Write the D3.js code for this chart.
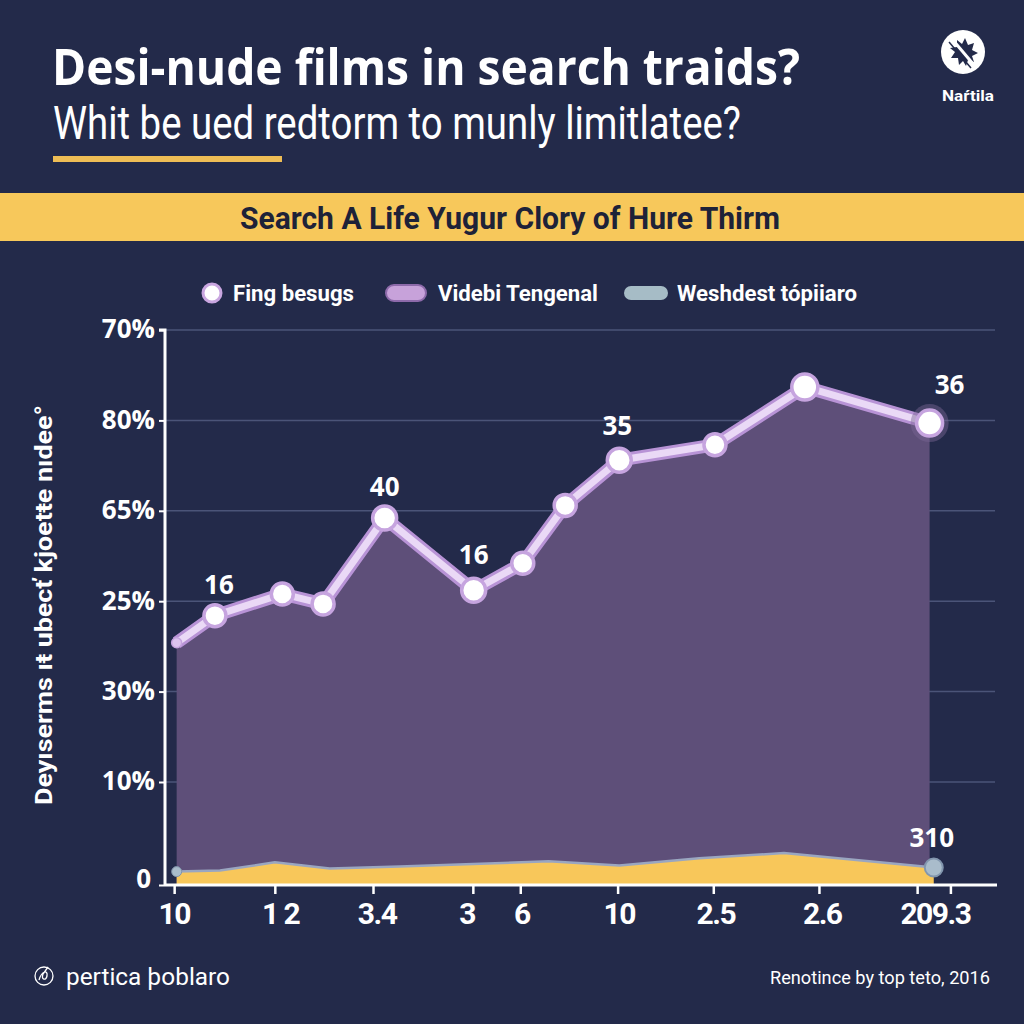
<!DOCTYPE html>
<html><head><meta charset="utf-8">
<script src="https://cdn.jsdelivr.net/npm/d3@7"></script>
<style>
html,body{margin:0;padding:0;background:#232a4a;}
svg{display:block;}
</style></head>
<body>
<svg id="c" width="1024" height="1024"></svg>
<script>
// ---- data ----
const title = "Desi-nude films in search traids?";
const subtitle = "Whit be ued redtorm to munly limitlatee?";
const bandText = "Search A Life Yugur Clory of Hure Thirm";
const legendLabels = ["Fing besugs", "Videbi Tengenal", "Weshdest tópiiaro"];
const yAxisTitle = "Deyıserms ıŧ ubecť kjoetŧe nıdee°";
const yTickValues = [0, 1, 2, 3, 4, 5, 6];
const yTickLabels = ["0", "10%", "30%", "25%", "65%", "80%", "70%"];
const xTickValues = [1.1, 13.2, 25.0, 37.0, 42.7, 54.4, 65.9, 78.6, 90.4, 94.4];
const xTickLabels = ["10", "1 2", "3.4", "3", "6", "10", "2.5", "2.6", "209.3", ""];
const xLabelAt = [1.1, 13.9, 25.5, 36.3, 42.9, 54.6, 66.2, 79.0, 92.6, 94.4];
// main series (position, value in axis units)
const mainX = [1.4, 6.0, 14.1, 19.0, 26.4, 37.1, 43.0, 48.1, 54.6, 66.1, 76.9, 91.9];
const mainY = [2.54, 2.84, 3.08, 2.97, 3.92, 3.12, 3.42, 4.06, 4.56, 4.73, 5.37, 4.97];
const mainLabels = ["", "16", "", "", "40", "16", "", "", "35", "", "", "36"];
// lower series
const lowX = [1.4, 6.6, 13.2, 19.8, 28.2, 46.1, 54.6, 64.2, 74.4, 92.4];
const lowY = [0.13, 0.14, 0.22, 0.16, 0.18, 0.23, 0.19, 0.26, 0.31, 0.17];
const lowLastLabel = "310";
const logoText = "Naŕtila";
const footLeft = "pertica þoblaro";
const footRight = "Renotince by top teto, 2016";

// ---- chart ----
const svg = d3.select("#c");
const BG = "#232a4a";
svg.append("rect").attr("width",1024).attr("height",1024).attr("fill",BG);

// header
svg.append("text").attr("x",52).attr("y",85).text(title)
  .attr("font-family","'Open Sans', 'Noto Sans', sans-serif").attr("font-weight",700)
  .attr("font-size",51).attr("fill","#ffffff").attr("textLength",748).attr("lengthAdjust","spacingAndGlyphs");
svg.append("text").attr("x",53).attr("y",139).text(subtitle)
  .attr("font-family","Roboto, sans-serif").attr("font-weight",400)
  .attr("font-size",46).attr("fill","#ffffff").attr("textLength",688).attr("lengthAdjust","spacingAndGlyphs");
svg.append("rect").attr("x",53).attr("y",156).attr("width",229).attr("height",6).attr("fill","#eebd55");

// logo
const lg = svg.append("g").attr("transform","translate(963,52)");
lg.append("circle").attr("r",22).attr("fill","#ffffff");
lg.append("path").attr("d","M2,-14 L5,-7 L11,-9 L9,-2 L15,1 L9,4 L11,10 L5,8 L3,14 L0,9 L-4,13 L-5,6 L-12,6 L-8,0 L-13,-4 L-6,-5 L-6,-12 L-1,-8 Z")
  .attr("fill","#232a4a");
lg.append("line").attr("x1",-11).attr("y1",-13).attr("x2",11).attr("y2",13).attr("stroke","#ffffff").attr("stroke-width",3);
lg.append("line").attr("x1",-14).attr("y1",-10).attr("x2",8).attr("y2",16).attr("stroke","#232a4a").attr("stroke-width",1.5);
svg.append("text").attr("x",968).attr("y",101).attr("text-anchor","middle").text(logoText)
  .attr("font-family","Roboto, sans-serif").attr("font-weight",700).attr("font-size",15)
  .attr("fill","#ffffff").attr("textLength",52).attr("lengthAdjust","spacingAndGlyphs");

// band
svg.append("rect").attr("x",0).attr("y",193).attr("width",1024).attr("height",48).attr("fill","#f7c85b");
svg.append("text").attr("x",510).attr("y",229).attr("text-anchor","middle").text(bandText)
  .attr("font-family","Roboto, sans-serif").attr("font-weight",700).attr("font-size",31)
  .attr("fill","#1e2238").attr("textLength",540).attr("lengthAdjust","spacingAndGlyphs");

// legend
const leg = svg.append("g");
leg.append("circle").attr("cx",212).attr("cy",293).attr("r",9).attr("fill","#ffffff").attr("stroke","#c9a6e0").attr("stroke-width",3);
leg.append("text").attr("x",233).attr("y",301).text(legendLabels[0]).attr("textLength",121);
leg.append("rect").attr("x",386).attr("y",285).attr("width",40).attr("height",16).attr("rx",8).attr("fill","#c7a2da").attr("stroke","#8d6aaa").attr("stroke-width",2);
leg.append("text").attr("x",438).attr("y",301).text(legendLabels[1]).attr("textLength",160);
leg.append("rect").attr("x",624).attr("y",286).attr("width",44).attr("height",14).attr("rx",7).attr("fill","#a6bcc6");
leg.append("text").attr("x",677).attr("y",301).text(legendLabels[2]).attr("textLength",180);
leg.selectAll("text").attr("font-family","Roboto, sans-serif").attr("font-weight",700).attr("font-size",22)
  .attr("lengthAdjust","spacingAndGlyphs").attr("fill","#ffffff");

// scales
const x = d3.scaleLinear().domain([0,100]).range([165,997]);
const y = d3.scaleLinear().domain([0,1,6]).range([885,782,330]);

// gridlines
svg.append("g").selectAll("line").data(yTickValues.filter(v=>v>0)).join("line")
  .attr("x1",165).attr("x2",995).attr("y1",d=>y(d)).attr("y2",d=>y(d))
  .attr("stroke","#4b5478").attr("stroke-width",1.5);

// main area
const mainData = mainX.map((v,i)=>({x:v,y:mainY[i]}));
const lowData = lowX.map((v,i)=>({x:v,y:lowY[i]}));
const area = d3.area().x(d=>x(d.x)).y0(y(0)).y1(d=>y(d.y));
svg.append("path").datum(mainData).attr("d",area).attr("fill","#5e4f79");

// lower area
svg.append("path").datum(lowData).attr("d",area).attr("fill","#f8c75a");
svg.append("path").datum(lowData).attr("d",d3.line().x(d=>x(d.x)).y(d=>y(d.y)))
  .attr("fill","none").attr("stroke","#9aa6c0").attr("stroke-width",2.5);

// main line
const line = d3.line().x(d=>x(d.x)).y(d=>y(d.y));
svg.append("path").datum(mainData).attr("d",line).attr("fill","none")
  .attr("stroke","#b893d6").attr("stroke-width",13).attr("stroke-linejoin","round");
svg.append("path").datum(mainData).attr("d",line).attr("fill","none")
  .attr("stroke","#ead9f6").attr("stroke-width",7).attr("stroke-linejoin","round");

// main points
const radii = [5,11,11,11,12,12,11,11,12,11,13,13];
svg.append("circle").attr("cx",x(mainX[11])).attr("cy",y(mainY[11])).attr("r",19).attr("fill","#7a6594").attr("opacity",0.45);
svg.append("g").selectAll("circle").data(mainData).join("circle")
  .attr("cx",d=>x(d.x)).attr("cy",d=>y(d.y)).attr("r",(d,i)=>radii[i])
  .attr("fill",(d,i)=>i===0?"#dcc3ee":"#ffffff").attr("stroke","#c6a4df").attr("stroke-width",(d,i)=>i===0?1.5:3.5);

// main labels
const lblOff = [[0,0],[4,-22],[0,0],[0,0],[0,-22],[0,-26],[0,0],[0,0],[-2,-25],[0,0],[0,0],[20,-29]];
svg.append("g").selectAll("text").data(mainData).join("text")
  .attr("x",(d,i)=>x(d.x)+lblOff[i][0]).attr("y",(d,i)=>y(d.y)+lblOff[i][1])
  .attr("text-anchor","middle").text((d,i)=>mainLabels[i])
  .attr("font-family","'Open Sans', sans-serif").attr("font-weight",700).attr("font-size",26).attr("fill","#ffffff");

// lower points
svg.append("circle").attr("cx",x(lowX[0])).attr("cy",y(lowY[0])).attr("r",5).attr("fill","#a9bccb").attr("stroke","#7f93ab").attr("stroke-width",1);
const lastLow = lowData[lowData.length-1];
svg.append("circle").attr("cx",x(lastLow.x)).attr("cy",y(lastLow.y)).attr("r",9).attr("fill","#a9bccb").attr("stroke","#8296ae").attr("stroke-width",2);
svg.append("text").attr("x",x(lastLow.x)-2).attr("y",y(lastLow.y)-20).attr("text-anchor","middle").text(lowLastLabel)
  .attr("font-family","'Open Sans', sans-serif").attr("font-weight",700).attr("font-size",26).attr("fill","#ffffff");

// y axis
const yAxis = d3.axisLeft(y).tickValues(yTickValues).tickFormat((d,i)=>yTickLabels[i]).tickSize(6).tickPadding(8);
const ya = svg.append("g").attr("transform","translate(165,0)").call(yAxis);
ya.select(".domain").attr("stroke","#ffffff").attr("stroke-width",3).attr("d","M-6,"+y(6)+"H0V"+y(0));
ya.selectAll(".tick line").attr("stroke","#ffffff").attr("stroke-width",2);
ya.selectAll(".tick text").attr("font-family","'Open Sans', sans-serif").attr("font-weight",700)
  .attr("font-size",26).attr("fill","#ffffff").attr("dy","0.3em").attr("x",-10);
ya.selectAll(".tick").filter(d=>d===0).select("text").attr("x",-14).attr("dy","0.1em");

// x axis
const xAxis = d3.axisBottom(x).tickValues(xTickValues).tickFormat("").tickSize(9);
const xa = svg.append("g").attr("transform","translate(0,885)").call(xAxis);
xa.select(".domain").attr("stroke","#ffffff").attr("stroke-width",3).attr("d","M165,0H997");
xa.selectAll(".tick line").attr("stroke","#ffffff").attr("stroke-width",2.5);
svg.append("g").selectAll("text").data(xTickLabels).join("text")
  .attr("x",(d,i)=>x(xLabelAt[i])).attr("y",924).attr("text-anchor","middle").text(d=>d)
  .attr("font-family","Roboto, sans-serif").attr("font-weight",700).attr("font-size",30)
  .attr("fill","#ffffff").attr("letter-spacing",-1.5);

// y axis title
svg.append("text").attr("transform","translate(52,605) rotate(-90)").attr("text-anchor","middle").text(yAxisTitle)
  .attr("font-family","Roboto, sans-serif").attr("font-weight",700).attr("font-size",24).attr("fill","#ffffff")
  .attr("textLength",400).attr("lengthAdjust","spacingAndGlyphs");

// footer
const fi = svg.append("g").attr("transform","translate(44,976)");
fi.append("circle").attr("r",9).attr("fill","none").attr("stroke","#ffffff").attr("stroke-width",1.3);
fi.append("path").attr("d","M-5,4 C-2,-6 4,-6 3,0 C2,5 -3,4 -1,-2 L4,-9").attr("fill","none").attr("stroke","#ffffff").attr("stroke-width",1.3);
svg.append("text").attr("x",66).attr("y",985).text(footLeft)
  .attr("font-family","Roboto, sans-serif").attr("font-size",23).attr("fill","#ffffff")
  .attr("textLength",164).attr("lengthAdjust","spacingAndGlyphs");
svg.append("text").attr("x",990).attr("y",984).attr("text-anchor","end").text(footRight)
  .attr("font-family","Roboto, sans-serif").attr("font-size",19).attr("fill","#ffffff")
  .attr("textLength",220).attr("lengthAdjust","spacingAndGlyphs");
</script>
</body></html>
